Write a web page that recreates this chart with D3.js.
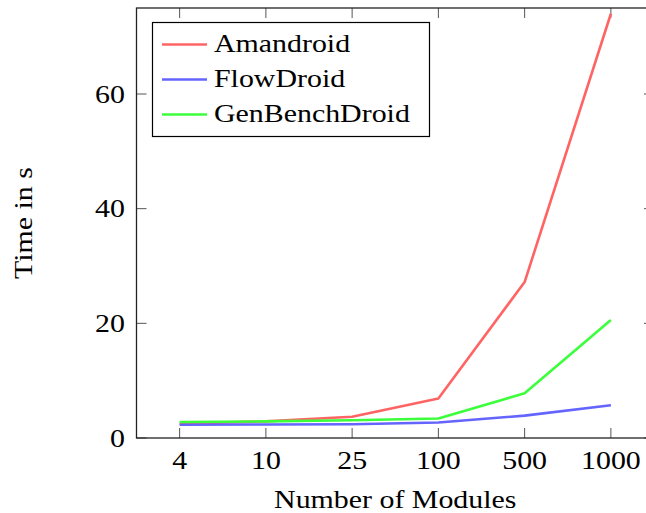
<!DOCTYPE html>
<html>
<head>
<meta charset="utf-8">
<script src="https://cdn.jsdelivr.net/npm/d3@7"></script>
<style>
  body { margin: 0; background: #fff; }
  text { font-family: "Liberation Serif", "DejaVu Serif", serif; fill: #000; }
</style>
</head>
<body>
<div id="chart"></div>
<script>
// data
const modules = ["4", "10", "25", "100", "500", "1000"];
const amandroid = [2.5, 2.9, 3.7, 6.9, 27.2, 74.0];
const flowdroid = [2.3, 2.35, 2.4, 2.7, 3.9, 5.7];
const genbench = [2.8, 2.9, 3.1, 3.4, 7.8, 20.6];
const yTicks = [0, 20, 40, 60];

const seriesList = [
    { name: "Amandroid", values: amandroid, color: "#ff6464" },
    { name: "FlowDroid", values: flowdroid, color: "#6464ff" },
    { name: "GenBenchDroid", values: genbench, color: "#3cff3c" }
];

const W = 646, H = 513;
const plot = { left: 136.5, right: 654, top: 8, bottom: 438 };
const fontSize = 26, stretch = 1.15;

const svg = d3.select("#chart").append("svg")
    .attr("width", W)
    .attr("height", H);

const x = d3.scalePoint()
    .domain(modules)
    .range([plot.left, plot.right])
    .padding(0.5);

const y = d3.scaleLinear()
    .domain([0, 75])
    .range([plot.bottom, plot.top]);

// helper: CM-like wide text from Liberation Serif
function label(xp, yp, str, anchor, rotate) {
    let g = svg.append("g")
        .attr("transform", `translate(${xp},${yp})` + (rotate ? ` rotate(${rotate})` : "") + ` scale(${stretch},1)`);
    g.append("text")
        .attr("text-anchor", anchor)
        .style("font-size", fontSize + "px")
        .text(str);
}

// ticks (pgfplots style, on all four sides, pointing in)
const tickLen = 10;
modules.forEach(m => {
    svg.append("line")
        .attr("x1", x(m)).attr("x2", x(m))
        .attr("y1", plot.bottom).attr("y2", plot.bottom - tickLen)
        .attr("stroke", "#555").attr("stroke-width", 1);
    svg.append("line")
        .attr("x1", x(m)).attr("x2", x(m))
        .attr("y1", plot.top).attr("y2", plot.top + tickLen)
        .attr("stroke", "#555").attr("stroke-width", 1);
    label(x(m), plot.bottom + 30.5, m, "middle");
});
yTicks.forEach(t => {
    svg.append("line")
        .attr("x1", plot.left).attr("x2", plot.left + tickLen)
        .attr("y1", y(t)).attr("y2", y(t))
        .attr("stroke", "#555").attr("stroke-width", 1);
    svg.append("line")
        .attr("x1", plot.right).attr("x2", plot.right - tickLen)
        .attr("y1", y(t)).attr("y2", y(t))
        .attr("stroke", "#555").attr("stroke-width", 1);
    label(125, y(t) + 8.5, t.toString(), "end");
});

// series lines
const line = d3.line()
    .x((d, i) => x(modules[i]))
    .y(d => y(d));

seriesList.forEach(s => {
    svg.append("path")
        .datum(s.values)
        .attr("fill", "none")
        .attr("stroke", s.color)
        .attr("stroke-width", 2.6)
        .attr("stroke-linejoin", "round")
        .attr("d", line);
});

// axis frame
svg.append("rect")
    .attr("x", plot.left).attr("y", plot.top)
    .attr("width", plot.right - plot.left)
    .attr("height", plot.bottom - plot.top)
    .attr("fill", "none")
    .attr("stroke", "#222")
    .attr("stroke-width", 1.3);

// axis labels
label((plot.left + plot.right) / 2, 508, "Number of Modules", "middle");
label(32, (plot.top + plot.bottom) / 2, "Time in s", "middle", -90);

// legend
const legend = svg.append("g");
legend.append("rect")
    .attr("x", 152.5).attr("y", 22.5)
    .attr("width", 277).attr("height", 114)
    .attr("fill", "#fff")
    .attr("stroke", "#000")
    .attr("stroke-width", 1.2);

seriesList.forEach((s, i) => {
    let ly = 44.5 + i * 35;
    legend.append("line")
        .attr("x1", 162).attr("x2", 207)
        .attr("y1", ly).attr("y2", ly)
        .attr("stroke", s.color)
        .attr("stroke-width", 2.6);
    label(214, ly + 7.5, s.name, "start");
});
</script>
</body>
</html>
